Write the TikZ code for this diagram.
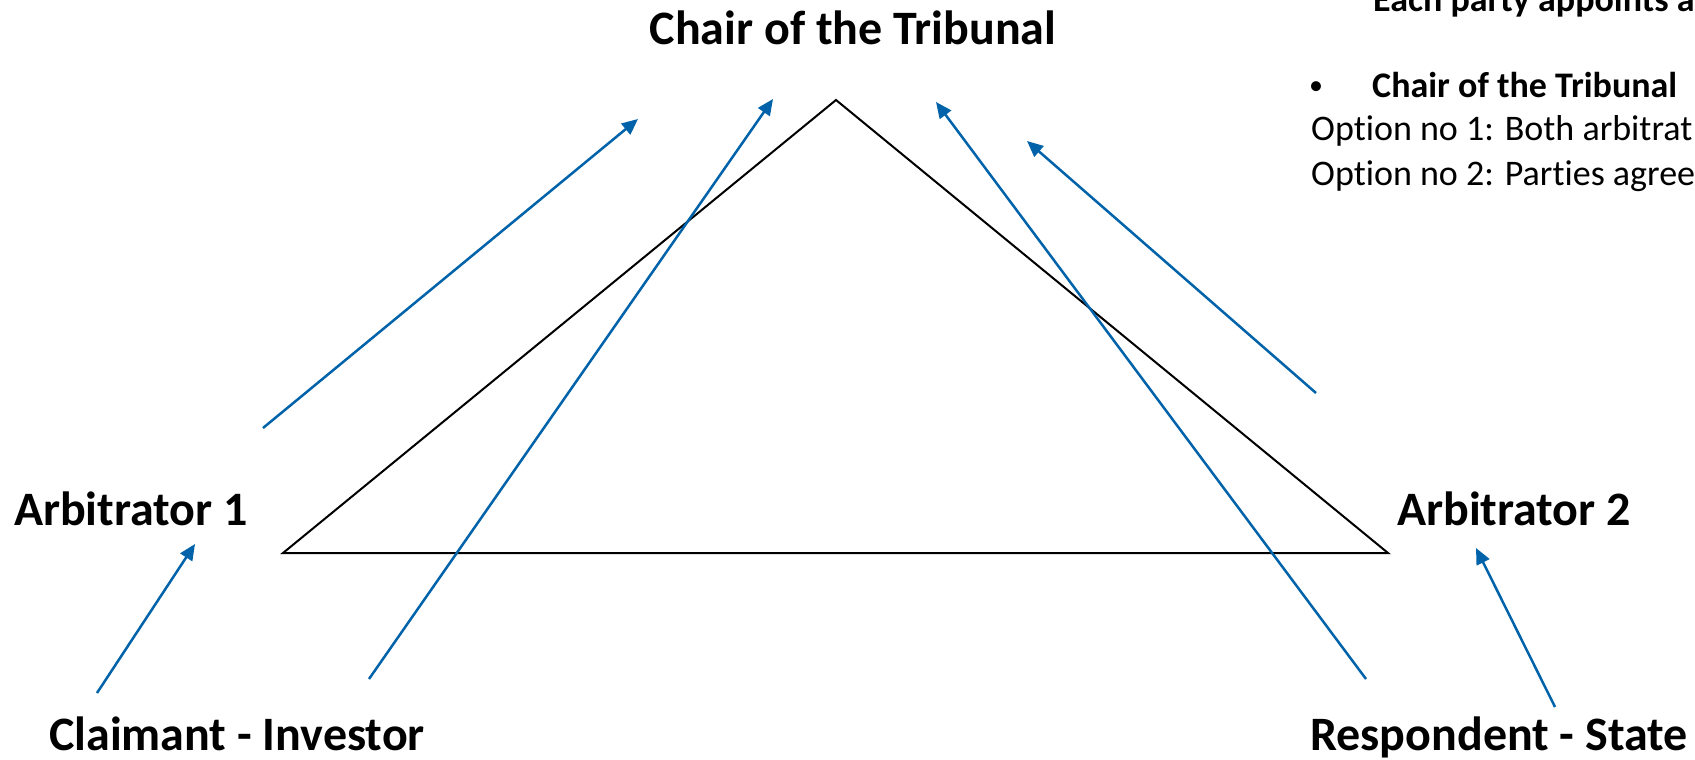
\documentclass[tikz,border=0pt]{standalone}
\usepackage{fontspec}
\setmainfont{Carlito}
\usetikzlibrary{arrows.meta}
\definecolor{arrowblue}{RGB}{0,99,170}
\begin{document}
\begin{tikzpicture}[x=1pt, y=-1pt,
  every node/.style={inner sep=0pt, anchor=base},
  party/.style={font=\fontsize{48}{56}\selectfont\bfseries},
  note/.style={font=\fontsize{36}{42}\selectfont, anchor=base west},
  link/.style={arrowblue, line width=2.5pt, -{Triangle[length=16pt,width=14pt]}}]
\useasboundingbox (0,0) rectangle (1695,760);
\clip (0,0) rectangle (1695,760);

% Tribunal triangle
\coordinate (apex) at (836,100);
\coordinate (left) at (283,553);
\coordinate (right) at (1388,553);
\draw[line width=2pt] (apex) -- (left) -- (right) -- cycle;

% Parties and arbitrators
\node[party] (chair) at (853,45) {Chair of the Tribunal};
\node[party] (arb1) at (131,525) {Arbitrator 1};
\node[party] (arb2) at (1514,525) {Arbitrator 2};
\node[party] (claimant) at (237,750) {Claimant - Investor};
\node[party] (respondent) at (1499,750) {Respondent - State};

% Notes on the right
\node[note, font=\fontsize{36}{42}\selectfont\bfseries] (each) at (1373,12) {Each party appoints a};
\node[note, font=\fontsize{28}{34}\selectfont] (dot) at (1309,95) {•};
\node[note, font=\fontsize{36}{42}\selectfont\bfseries] (chairnote) at (1372,97) {Chair of the Tribunal};
\node[note] (opt1) at (1311,140) {Opt\kern0pt ion no 1: Both arbitrat};
\node[note] (opt2) at (1311,185) {Opt\kern0pt ion no 2: Part\kern0pt ies agree};

% Appointment arrows (tail x/y, head x/y)
\foreach \a/\b/\c/\d [count=\i] in {
  263/428/638/119,
  369/679/773/99,
  1366/679/936/102,
  1316/393/1027/141,
  97/693/195/544,
  1555/707/1476/548
} {
  \coordinate (tail\i) at (\a,\b);
  \coordinate (head\i) at (\c,\d);
  \draw[link] (tail\i) -- (head\i);
}
\end{tikzpicture}
\end{document}
